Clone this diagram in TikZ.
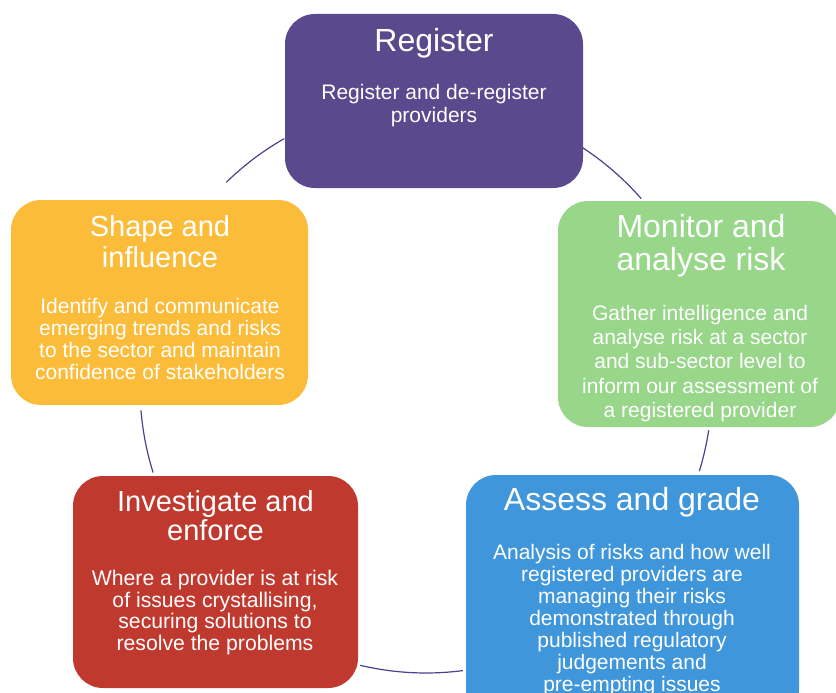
\documentclass[tikz,border=0pt]{standalone}
\usepackage{fontspec}
\setmainfont{Liberation Sans}
\definecolor{regc}{HTML}{5A498C}
\definecolor{monc}{HTML}{98D68A}
\definecolor{assc}{HTML}{3F96DB}
\definecolor{invc}{HTML}{C0392F}
\definecolor{shac}{HTML}{FBBC3A}
\definecolor{ringc}{HTML}{4F3F8F}
\begin{document}
\begin{tikzpicture}[x=1pt,y=-1pt,
  box/.style={rectangle, rounded corners=30pt, inner sep=0pt, draw=none},
  ttl/.style={text=white, align=center, inner sep=0pt},
  bdy/.style={text=white, align=center, inner sep=0pt},
  ring/.style={draw=ringc, line width=1.2pt}]
\clip (0,0) rectangle (836,693);
\fill[white] (0,0) rectangle (836,693);
\coordinate (c) at (426,387);
% ring arcs
\draw[ring] (c) ++(-119.7:286) arc[start angle=-119.7, end angle=-134.3, radius=286];
\draw[ring] (c) ++(-56.8:286) arc[start angle=-56.8, end angle=-41.2, radius=286];
\draw[ring] (c) ++(8.7:286) arc[start angle=8.7, end angle=17.1, radius=286];
\draw[ring] (c) ++(82.6:286) arc[start angle=82.6, end angle=103.3, radius=286];
\draw[ring] (c) ++(162.6:286) arc[start angle=162.6, end angle=175.3, radius=286];
% boxes
\node[box, fill=regc, minimum width=298pt, minimum height=174pt] (reg) at (434,101) {};
\node[box, fill=monc, minimum width=282pt, minimum height=226pt] (mon) at (699,314) {};
\node[box, fill=assc, minimum width=333pt, minimum height=245pt] (ass) at (632.5,597.5) {};
\node[box, fill=invc, minimum width=285pt, minimum height=212pt] (inv) at (215.5,582) {};
\node[box, fill=shac, minimum width=297pt, minimum height=205pt] (sha) at (159.5,302.5) {};
% texts
\node[ttl, font=\fontsize{32}{31}\selectfont] (regt) at (434,43) {Register};
\node[bdy, font=\fontsize{21}{23}\selectfont] (regb) at (434,105.5) {Register and de-register\\providers};
\node[ttl, font=\fontsize{32}{33}\selectfont] (mont) at (701,246) {Monitor and\\analyse risk};
\node[bdy, font=\fontsize{21}{24.25}\selectfont] (monb) at (700,363.5) {Gather intelligence and\\analyse risk at a sector\\and sub-sector level to\\inform our assessment of\\a registered provider};
\node[ttl, font=\fontsize{29}{31}\selectfont] (shat) at (160,242) {Shape and\\influence};
\node[bdy, font=\fontsize{21}{22}\selectfont] (shab) at (160,339) {Identify and communicate\\emerging trends and risks\\to the sector and maintain\\confidence of stakeholders};
\node[ttl, font=\fontsize{29}{29}\selectfont] (invt) at (215.5,516) {Investigate and\\enforce};
\node[bdy, font=\fontsize{21.2}{21.7}\selectfont] (invb) at (215,612.5) {Where a provider is at risk\\of issues crystallising,\\securing solutions to\\resolve the problems};
\node[ttl, font=\fontsize{32}{31}\selectfont] (asst) at (632,502) {Assess and grade};
\node[bdy, font=\fontsize{21}{22}\selectfont] (assb) at (632,620) {Analysis of risks and how well\\registered providers are\\managing their risks\\demonstrated through\\published regulatory\\judgements and\\pre-empting issues};
\end{tikzpicture}
\end{document}
